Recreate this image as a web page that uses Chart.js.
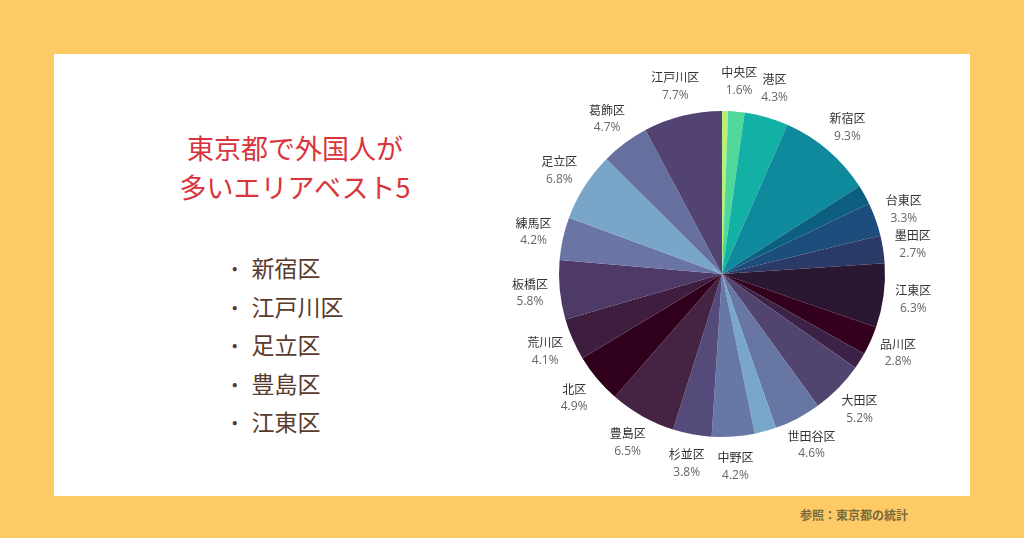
<!DOCTYPE html>
<html><head><meta charset="utf-8">
<script src="https://cdn.jsdelivr.net/npm/chart.js@4"></script>
<style>
body{margin:0;width:1024px;height:538px;background:#fdca66;position:relative;overflow:hidden;font-family:"Noto Sans CJK JP",sans-serif}
#panel{position:absolute;left:54px;top:54px;width:916px;height:442px;background:#fff}
#title{position:absolute;left:150px;top:128px;width:290px;text-align:center;color:#d9343c;font-size:27px;line-height:39px}
#list{position:absolute;left:232px;top:250px;color:#5a3a2c;font-size:23px;line-height:35.5px;margin:0;padding:0;list-style:none}
#list li::before{content:"•";font-size:16px;margin-right:14px;position:relative;top:-3px}
#src{position:absolute;left:800px;top:506px;color:#7a6a3a;font-size:12px;font-weight:bold}
#wrap{position:absolute;left:492px;top:50px;width:460px;height:448px}
</style></head><body>
<div id="panel"></div>
<div id="title">東京都で外国人が<br>多いエリアベスト5</div>
<ul id="list"><li>新宿区</li><li>江戸川区</li><li>足立区</li><li>豊島区</li><li>江東区</li></ul>
<div id="src">参照：東京都の統計</div>
<div id="wrap"><canvas id="c"></canvas></div>
<script>
const wards=["千代田区","中央区","港区","新宿区","文京区","台東区","墨田区","江東区","品川区","目黒区","大田区","世田谷区","渋谷区","中野区","杉並区","豊島区","北区","荒川区","板橋区","練馬区","足立区","葛飾区","江戸川区"];
const values=[0.6,1.6,4.3,9.3,1.9,3.3,2.7,6.3,2.8,1.6,5.2,4.6,2.1,4.2,3.8,6.5,4.9,4.1,5.8,4.2,6.8,4.7,7.7];
const showLabel=[false,true,true,true,false,true,true,true,true,false,true,true,false,true,true,true,true,true,true,true,true,true,true];
const colors=["#b6f07a","#4fd89a","#13b1a5","#0e8a9c","#0c5f7f","#1d4d7c","#2c3a68","#2c1733","#33001e","#3d2247","#51446f","#6776a3","#79a7cb","#6878a6","#554b7a","#452343","#30001d","#3e1d3e","#4d3a66","#6b75a5","#79a5c9","#66709f","#524372"];
const labelPlugin={id:'lbl',afterDatasetsDraw(ch){
  const ctx=ch.ctx,meta=ch.getDatasetMeta(0);
  meta.data.forEach((a,i)=>{
    if(!showLabel[i])return;
    const ang=(a.startAngle+a.endAngle)/2,r=a.outerRadius+30;
    const x=a.x+Math.cos(ang)*r,y=a.y+Math.sin(ang)*r;
    ctx.save();ctx.textAlign='center';ctx.textBaseline='middle';
    ctx.font='12px "Noto Sans CJK JP"';ctx.fillStyle='#333';ctx.fillText(wards[i],x,y-9);
    ctx.font='12px "Open Sans"';ctx.fillStyle='#666';ctx.fillText(values[i].toFixed(1)+'%',x,y+9);
    ctx.restore();
  });
}};
new Chart(document.getElementById('c'),{type:'pie',
 data:{labels:wards,datasets:[{data:values,backgroundColor:colors,borderWidth:0}]},
 options:{responsive:true,maintainAspectRatio:false,animation:false,
  layout:{padding:{left:67,right:67,top:61,bottom:61}},
  plugins:{legend:{display:false},tooltip:{enabled:false}}},
 plugins:[labelPlugin]});
</script></body></html>
